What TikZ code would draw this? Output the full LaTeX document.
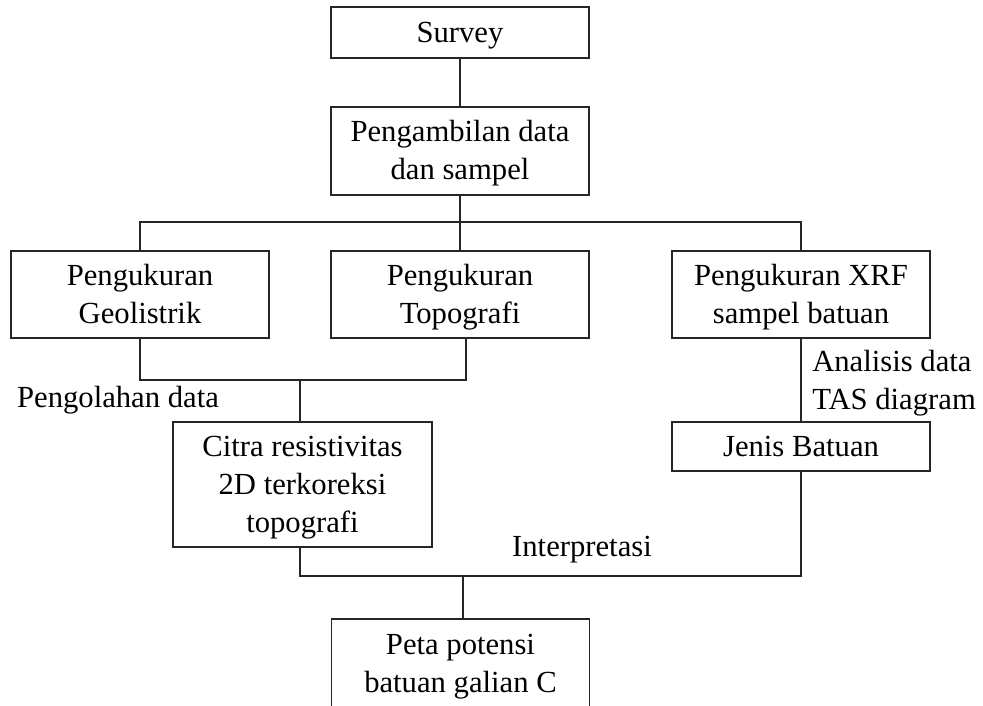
\documentclass[tikz,border=0pt]{standalone}
\usepackage{fontspec}
\setmainfont{Liberation Serif}
\usepackage{xcolor}
\definecolor{flowline}{HTML}{262626}
\tikzset{
  box/.style={draw=flowline,line width=0.9pt,align=center,inner sep=2pt,minimum width=193.5pt,font=\fontsize{23}{28.5}\selectfont},
  lbl/.style={inner sep=0pt,align=left,font=\fontsize{23}{28.5}\selectfont},
  ln/.style={draw=flowline,line width=0.9pt},
}
\newcommand{\ls}{\rule[-7pt]{0pt}{28.5pt}}
\begin{document}
\begin{tikzpicture}[x=0.75pt,y=-0.75pt]
  \useasboundingbox (0,0) rectangle (983,706);
  % boxes
  \node[box,minimum height=38.25pt] (survey) at (460,32.5) {Survey\ls};
  \node[box,minimum height=66pt] (ambil) at (460,151) {Pengambilan data\ls\\dan sampel\ls};
  \node[box,minimum height=65.25pt] (geo) at (140,294.5) {Pengukuran\ls\\Geolistrik\ls};
  \node[box,minimum height=65.25pt] (topo) at (460,294.5) {Pengukuran\ls\\Topografi\ls};
  \node[box,minimum height=65.25pt] (xrf) at (801,294.5) {Pengukuran XRF\ls\\sampel batuan\ls};
  \node[box,minimum height=93.75pt,minimum width=194.25pt] (citra) at (302.5,484.5) {Citra resistivitas\ls\\2D terkoreksi\ls\\topografi\ls};
  \node[box,minimum height=36.75pt] (jenis) at (801,446.5) {Jenis Batuan\ls};
  \node[box,minimum height=67.5pt] (peta) at (460.5,664) {Peta potensi\ls\\batuan galian C\ls};
  % labels
  \node[lbl] (olah) at (118,400) {Pengolahan data};
  \node[lbl,anchor=west] (tas) at (812,383) {Analisis data\\TAS diagram};
  \node[lbl] (interp) at (582,550) {Interpretasi};
  % connectors
  \coordinate (bus1) at (460,222);
  \coordinate (bus2) at (300,380);
  \coordinate (bus3) at (463,576);
  \draw[ln] (survey) -- (ambil);
  \draw[ln] (ambil) -- (bus1);
  \draw[ln] (geo.north) |- (bus1) -| (xrf.north);
  \draw[ln] (bus1) -- (topo.north);
  \draw[ln] (geo.south) |- (bus2) -| ([xshift=4.5pt]topo.south);
  \draw[ln] (bus2) -- (bus2 |- citra.north);
  \draw[ln] (xrf) -- (jenis);
  \draw[ln] (bus2 |- citra.south) |- (bus3) -| (jenis.south);
  \draw[ln] (bus3) -- (bus3 |- peta.north);
\end{tikzpicture}
\end{document}
